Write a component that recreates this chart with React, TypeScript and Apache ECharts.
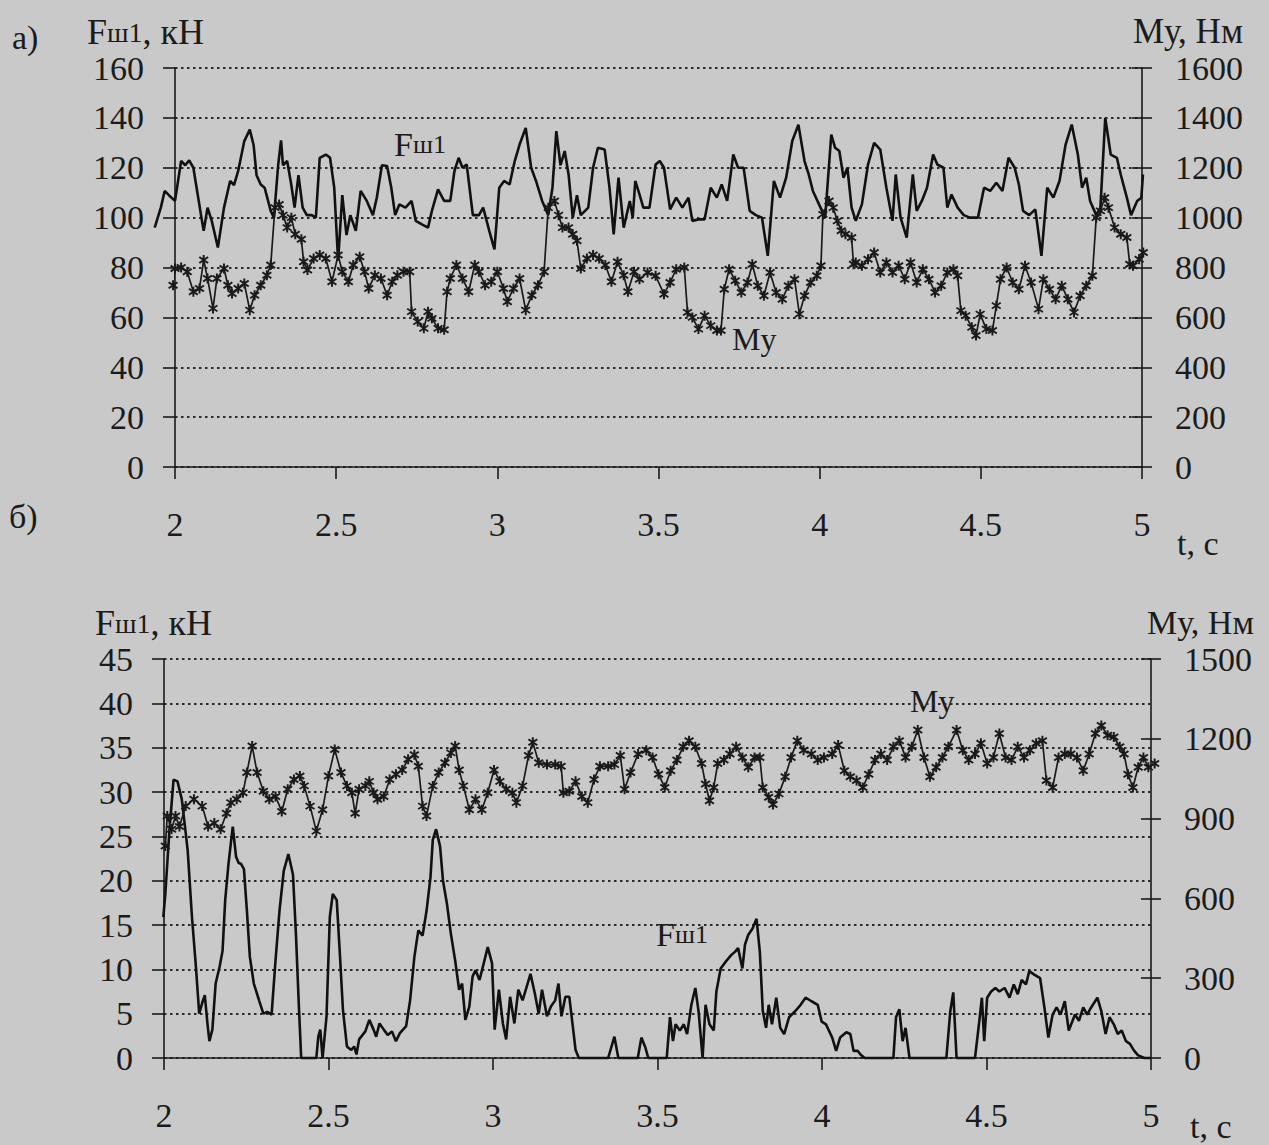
import React, { useEffect, useRef } from "react";
import * as echarts from "echarts";

// ---- Chart а): Fш1 (kN) vs t (s)
const topForce: [number, number][] = [
  [1.937, 96], [1.956, 104], [1.968, 110.7], [1.981, 109], [2.0, 106.7], [2.019, 122.7], [2.032, 121], [2.044, 123],
  [2.057, 120], [2.067, 112], [2.082, 100], [2.089, 94.7], [2.101, 104], [2.114, 98.7], [2.133, 88], [2.152, 104],
  [2.171, 114.7], [2.183, 113], [2.196, 118.7], [2.215, 130.7], [2.232, 135.3], [2.244, 129], [2.253, 117], [2.266, 113.3],
  [2.278, 112], [2.297, 102.7], [2.307, 100], [2.32, 121], [2.329, 131], [2.335, 121], [2.348, 122.7], [2.361, 113],
  [2.371, 104], [2.383, 117], [2.396, 104], [2.409, 101], [2.424, 101], [2.437, 100], [2.449, 124], [2.468, 125.3],
  [2.481, 124], [2.494, 112], [2.506, 82.7], [2.519, 109], [2.532, 93], [2.544, 101], [2.561, 94.7], [2.576, 110.7],
  [2.595, 106.7], [2.614, 101], [2.626, 108], [2.642, 121], [2.658, 120.7], [2.671, 112], [2.683, 101], [2.696, 105.3],
  [2.715, 104], [2.734, 106.7], [2.747, 98.7], [2.766, 97.3], [2.785, 96], [2.797, 102.7], [2.816, 111.3], [2.835, 106.7],
  [2.854, 106.7], [2.867, 118.7], [2.88, 124], [2.892, 120], [2.905, 121.3], [2.924, 101], [2.943, 101], [2.956, 104],
  [2.975, 94.7], [2.991, 87.3], [3.006, 112], [3.021, 114.7], [3.038, 113.3], [3.054, 122.7], [3.069, 129.3], [3.088, 136],
  [3.105, 120], [3.12, 114.7], [3.139, 106.7], [3.158, 101], [3.171, 112], [3.183, 134.7], [3.196, 121], [3.209, 126.7],
  [3.221, 117.3], [3.234, 100], [3.247, 109], [3.259, 101], [3.282, 104], [3.297, 120], [3.312, 128], [3.333, 127.3],
  [3.348, 112], [3.361, 93.3], [3.376, 116], [3.392, 96], [3.411, 106.7], [3.42, 100], [3.428, 114.7], [3.441, 109.3],
  [3.453, 104], [3.472, 104], [3.491, 121.3], [3.504, 122.7], [3.517, 120], [3.536, 103.3], [3.555, 108], [3.574, 104],
  [3.593, 108], [3.605, 98.7], [3.624, 99.3], [3.643, 99.3], [3.662, 112], [3.681, 108], [3.696, 113.3], [3.713, 106.7],
  [3.732, 125.3], [3.747, 120], [3.764, 120], [3.783, 102.7], [3.802, 101], [3.821, 100], [3.839, 84.7], [3.858, 114.7],
  [3.877, 108], [3.896, 116], [3.915, 130.7], [3.934, 137.3], [3.953, 122.7], [3.966, 117.3], [3.979, 110.7], [3.998, 105.3],
  [4.017, 100], [4.036, 133.3], [4.048, 128], [4.061, 126.7], [4.074, 116], [4.086, 120], [4.099, 104], [4.112, 98.7],
  [4.131, 105.3], [4.15, 121.3], [4.169, 130], [4.188, 127.3], [4.207, 112], [4.226, 98.7], [4.236, 117.3], [4.251, 100],
  [4.27, 92], [4.289, 117.3], [4.301, 102.7], [4.317, 106.7], [4.333, 112], [4.352, 125.3], [4.365, 121.3], [4.384, 120],
  [4.396, 104], [4.409, 109.3], [4.428, 104], [4.447, 101], [4.466, 100], [4.491, 100], [4.51, 112], [4.529, 110.7],
  [4.548, 114], [4.567, 110.7], [4.586, 124], [4.605, 120], [4.618, 113.3], [4.631, 102.7], [4.65, 101], [4.669, 103.3],
  [4.688, 84.7], [4.706, 112], [4.725, 108], [4.744, 114.7], [4.763, 129.3], [4.782, 137.3], [4.801, 125.3], [4.814, 112],
  [4.827, 116], [4.839, 106.7], [4.858, 101], [4.871, 104], [4.886, 140], [4.903, 125.3], [4.922, 124], [4.934, 117.3],
  [4.953, 108], [4.966, 101], [4.985, 106.7], [4.998, 108], [5.003, 117.3],
];

// ---- Chart а): Mу (N·m) vs t (s)
const topMoment: [number, number][] = [
  [1.994, 729], [2.0, 796], [2.019, 800], [2.038, 783], [2.057, 703], [2.076, 716], [2.089, 830], [2.101, 756],
  [2.118, 636], [2.13, 756], [2.152, 796], [2.164, 729], [2.177, 696], [2.196, 716], [2.215, 736], [2.232, 629],
  [2.247, 689], [2.266, 729], [2.285, 769], [2.297, 810], [2.31, 1040], [2.323, 1053], [2.335, 1010], [2.348, 960],
  [2.361, 1000], [2.373, 933], [2.392, 913], [2.399, 823], [2.411, 790], [2.43, 836], [2.449, 850], [2.468, 836],
  [2.487, 743], [2.506, 850], [2.519, 783], [2.538, 743], [2.553, 810], [2.573, 843], [2.588, 783], [2.601, 716],
  [2.62, 769], [2.639, 756], [2.658, 689], [2.674, 743], [2.69, 769], [2.709, 783], [2.728, 783], [2.734, 623],
  [2.753, 583], [2.772, 556], [2.785, 623], [2.797, 596], [2.816, 556], [2.835, 550], [2.844, 703], [2.854, 756],
  [2.873, 810], [2.892, 756], [2.911, 703], [2.93, 810], [2.943, 783], [2.962, 729], [2.981, 743], [3.0, 783],
  [3.019, 716], [3.031, 663], [3.05, 716], [3.069, 756], [3.088, 629], [3.107, 689], [3.126, 729], [3.145, 783],
  [3.158, 1040], [3.177, 1067], [3.19, 1010], [3.202, 960], [3.221, 960], [3.234, 933], [3.247, 907], [3.259, 796],
  [3.278, 836], [3.297, 850], [3.316, 836], [3.335, 810], [3.354, 743], [3.373, 823], [3.392, 769], [3.405, 703],
  [3.424, 783], [3.441, 753], [3.466, 780], [3.491, 767], [3.517, 693], [3.536, 740], [3.555, 793], [3.58, 800],
  [3.59, 620], [3.605, 600], [3.624, 553], [3.643, 607], [3.662, 567], [3.681, 547], [3.694, 547], [3.704, 713],
  [3.719, 793], [3.738, 747], [3.757, 700], [3.776, 740], [3.791, 813], [3.808, 727], [3.827, 687], [3.846, 780],
  [3.865, 700], [3.884, 673], [3.903, 727], [3.922, 753], [3.937, 613], [3.953, 687], [3.972, 740], [3.991, 767],
  [4.004, 807], [4.01, 1013], [4.029, 1067], [4.042, 1040], [4.055, 987], [4.067, 947], [4.08, 933], [4.099, 920],
  [4.105, 813], [4.112, 820], [4.131, 807], [4.15, 833], [4.169, 860], [4.188, 780], [4.207, 820], [4.226, 780],
  [4.245, 807], [4.264, 753], [4.282, 820], [4.301, 740], [4.32, 793], [4.339, 753], [4.358, 700], [4.377, 727],
  [4.396, 780], [4.415, 793], [4.428, 767], [4.438, 627], [4.453, 607], [4.472, 560], [4.485, 527], [4.498, 613],
  [4.517, 553], [4.536, 547], [4.548, 647], [4.561, 753], [4.58, 800], [4.599, 740], [4.618, 713], [4.637, 807],
  [4.656, 740], [4.679, 633], [4.694, 753], [4.713, 713], [4.732, 673], [4.751, 727], [4.77, 673], [4.789, 620],
  [4.808, 687], [4.827, 727], [4.846, 767], [4.858, 1000], [4.871, 1027], [4.884, 1080], [4.896, 1040], [4.915, 960],
  [4.934, 933], [4.953, 920], [4.962, 813], [4.972, 807], [4.991, 833], [5.004, 860],
];

// ---- Chart б): Fш1 (kN) vs t (s)
const bottomForce: [number, number][] = [
  [1.998, 15.9], [2.004, 18.5], [2.016, 25.4], [2.029, 31.4], [2.041, 31.2], [2.054, 29.2], [2.066, 25.4], [2.072, 23.4],
  [2.085, 15.9], [2.097, 10.3], [2.107, 5], [2.116, 6.2], [2.124, 7.1], [2.132, 3.9], [2.138, 1.9], [2.147, 3.2],
  [2.157, 8.4], [2.169, 10.3], [2.178, 12.1], [2.186, 17.8], [2.196, 21.9], [2.209, 26.1], [2.219, 22.7], [2.227, 22],
  [2.234, 21.9], [2.243, 21.3], [2.252, 16.6], [2.261, 11.4], [2.273, 8.4], [2.289, 6.5], [2.302, 5], [2.314, 5.2],
  [2.327, 4.9], [2.339, 11], [2.351, 16.6], [2.364, 21.1], [2.378, 23], [2.392, 20.7], [2.401, 14], [2.41, 5.8],
  [2.417, 0], [2.463, 0], [2.469, 2.4], [2.475, 3.2], [2.482, 0], [2.494, 4.7], [2.504, 15.9], [2.513, 18.5],
  [2.525, 17.8], [2.534, 12.1], [2.544, 5.4], [2.556, 1.3], [2.569, 0.9], [2.578, 1.3], [2.585, 0.4], [2.593, 2.1],
  [2.612, 3], [2.624, 4.3], [2.637, 3.2], [2.645, 2.4], [2.655, 3.9], [2.668, 3.2], [2.68, 2.6], [2.693, 3],
  [2.705, 1.9], [2.717, 2.8], [2.736, 3.6], [2.748, 6.5], [2.761, 11.4], [2.773, 14.4], [2.786, 13.8], [2.798, 16.6],
  [2.81, 20.4], [2.817, 24.6], [2.827, 25.8], [2.839, 23.9], [2.848, 20], [2.86, 17.4], [2.872, 14], [2.885, 11],
  [2.897, 7.7], [2.906, 8.4], [2.916, 4.3], [2.928, 5.8], [2.938, 9.2], [2.947, 9.9], [2.959, 8.8], [2.972, 10.7],
  [2.984, 12.5], [2.997, 10.7], [3.005, 3.2], [3.018, 7.7], [3.03, 3.9], [3.04, 2.1], [3.052, 6.9], [3.065, 3.9],
  [3.077, 7.7], [3.09, 6.5], [3.102, 8], [3.114, 9.5], [3.127, 7.3], [3.139, 5], [3.149, 7.7], [3.164, 4.7],
  [3.176, 5.8], [3.189, 6.5], [3.199, 8.4], [3.208, 4.7], [3.22, 6.9], [3.232, 6.9], [3.251, 0.9], [3.261, 0],
  [3.35, 0], [3.369, 2.4], [3.381, 0], [3.44, 0], [3.451, 2.3], [3.463, 1.2], [3.472, 0], [3.528, 0],
  [3.538, 4.6], [3.547, 1.9], [3.555, 3.8], [3.568, 3.1], [3.58, 3.8], [3.59, 2.7], [3.603, 6], [3.615, 7.9],
  [3.625, 5.2], [3.637, 0], [3.646, 6], [3.658, 3.8], [3.671, 3.1], [3.679, 7.5], [3.692, 10.1], [3.708, 10.9],
  [3.724, 11.6], [3.736, 12], [3.745, 12.4], [3.758, 10.1], [3.766, 12.8], [3.776, 13.9], [3.789, 14.6], [3.801, 15.7],
  [3.811, 12], [3.82, 5.3], [3.83, 3.4], [3.838, 6], [3.848, 3.8], [3.861, 6.8], [3.873, 3.4], [3.885, 2.7],
  [3.9, 4.6], [3.919, 5.3], [3.935, 6], [3.95, 6.8], [3.968, 6.4], [3.987, 6], [3.999, 4.1], [4.012, 3.8],
  [4.031, 2.3], [4.043, 0.8], [4.055, 2.3], [4.074, 2.9], [4.086, 2.7], [4.096, 0.8], [4.109, 0.8], [4.117, 0.4],
  [4.13, 0], [4.217, 0], [4.225, 4.6], [4.235, 5.5], [4.245, 1.9], [4.254, 3.4], [4.266, 0], [4.378, 0],
  [4.39, 5.3], [4.399, 7.4], [4.409, 0], [4.465, 0], [4.477, 3.8], [4.486, 6.8], [4.493, 1.9], [4.502, 6.8],
  [4.514, 7.5], [4.527, 7.9], [4.539, 7.5], [4.555, 7.9], [4.57, 6.8], [4.583, 8.3], [4.595, 7.2], [4.607, 8.8],
  [4.62, 8.3], [4.63, 9.8], [4.645, 9.4], [4.663, 9], [4.676, 5.7], [4.688, 2.3], [4.701, 4.9], [4.713, 5.7],
  [4.725, 4.9], [4.738, 6.4], [4.75, 3.1], [4.769, 4.9], [4.781, 4.2], [4.794, 5.7], [4.806, 4.9], [4.818, 5.7],
  [4.837, 6.8], [4.849, 5.3], [4.862, 2.7], [4.874, 4.6], [4.887, 3.8], [4.899, 2.7], [4.911, 3.1], [4.924, 1.9],
  [4.936, 1.6], [4.949, 0.8], [4.961, 0.3], [4.98, 0], [4.998, 0],
];

// ---- Chart б): Mу (N·m) vs t (s)
const bottomMoment: [number, number][] = [
  [2.004, 797], [2.01, 910], [2.023, 860], [2.035, 910], [2.047, 870], [2.066, 947], [2.091, 973], [2.116, 947],
  [2.134, 870], [2.153, 883], [2.172, 860], [2.19, 920], [2.203, 960], [2.221, 973], [2.24, 997], [2.252, 1073],
  [2.268, 1173], [2.283, 1073], [2.302, 1003], [2.32, 973], [2.339, 983], [2.358, 927], [2.376, 1010], [2.395, 1047],
  [2.413, 1060], [2.426, 1023], [2.444, 947], [2.463, 853], [2.482, 933], [2.5, 1060], [2.519, 1160], [2.538, 1073],
  [2.556, 1023], [2.571, 997], [2.581, 920], [2.593, 1010], [2.612, 1023], [2.624, 1040], [2.637, 997], [2.649, 973],
  [2.668, 983], [2.686, 1047], [2.705, 1067], [2.724, 1083], [2.742, 1123], [2.761, 1140], [2.773, 1097], [2.786, 947],
  [2.798, 910], [2.817, 1023], [2.835, 1073], [2.854, 1110], [2.872, 1147], [2.885, 1173], [2.897, 1083], [2.91, 1023],
  [2.928, 933], [2.947, 973], [2.966, 933], [2.984, 997], [3.003, 1083], [3.021, 1040], [3.04, 1010], [3.059, 997],
  [3.071, 960], [3.09, 1023], [3.108, 1137], [3.121, 1187], [3.139, 1110], [3.164, 1103], [3.189, 1103], [3.207, 1097],
  [3.214, 997], [3.232, 1003], [3.251, 1040], [3.27, 983], [3.288, 960], [3.307, 1047], [3.325, 1097], [3.35, 1097],
  [3.369, 1103], [3.387, 1137], [3.4, 1010], [3.418, 1073], [3.441, 1143], [3.466, 1157], [3.485, 1130], [3.503, 1067],
  [3.522, 1017], [3.54, 1080], [3.559, 1120], [3.578, 1170], [3.596, 1193], [3.615, 1170], [3.634, 1107], [3.646, 1030],
  [3.658, 967], [3.671, 1017], [3.683, 1107], [3.702, 1120], [3.72, 1143], [3.739, 1170], [3.758, 1130], [3.776, 1093],
  [3.795, 1130], [3.811, 1130], [3.82, 1017], [3.838, 980], [3.851, 953], [3.869, 993], [3.888, 1057], [3.906, 1130],
  [3.925, 1193], [3.944, 1157], [3.968, 1143], [3.987, 1120], [4.006, 1130], [4.031, 1143], [4.049, 1177], [4.068, 1080],
  [4.086, 1057], [4.105, 1043], [4.124, 1017], [4.142, 1067], [4.161, 1120], [4.179, 1143], [4.198, 1120], [4.217, 1170],
  [4.235, 1193], [4.254, 1130], [4.273, 1170], [4.291, 1233], [4.31, 1130], [4.328, 1057], [4.347, 1093], [4.366, 1130],
  [4.384, 1170], [4.409, 1233], [4.428, 1157], [4.446, 1120], [4.465, 1143], [4.483, 1183], [4.502, 1107], [4.521, 1130],
  [4.539, 1220], [4.558, 1130], [4.576, 1120], [4.595, 1170], [4.614, 1130], [4.632, 1157], [4.651, 1183], [4.67, 1193],
  [4.682, 1043], [4.701, 1017], [4.719, 1130], [4.738, 1143], [4.756, 1143], [4.775, 1130], [4.794, 1080], [4.812, 1143],
  [4.831, 1220], [4.849, 1250], [4.868, 1213], [4.887, 1207], [4.905, 1170], [4.918, 1143], [4.93, 1067], [4.945, 1017],
  [4.961, 1093], [4.977, 1130], [4.992, 1093], [5.011, 1107],
];

// axis scales
const T_MIN = 2, T_MAX = 5, T_STEP = 0.5;
const T_PAD = 0.1; // the traces run slightly past both ends of the time axis
const TOP_F = { min: 0, max: 160, step: 20 };
const TOP_M = { min: 0, max: 1600, step: 200 };
const BOT_F = { min: 0, max: 45, step: 5 };
const BOT_M = { min: 0, max: 1500, step: 300 };

const FONT = "Liberation Serif";
const INK = "#1b1b1b";
const STAR =
  "path://M4.1,0 L5.9,0 L5.9,10 L4.1,10 Z M0.46,2.72 L1.54,1.28 L9.54,7.28 L8.46,8.72 Z M8.46,1.28 L9.54,2.72 L1.54,8.72 L0.46,7.28 Z";

// plot boxes of the two panels
const BOX_A = { left: 175, top: 68, width: 967, height: 399 };
const BOX_B = { left: 164, top: 659, width: 987, height: 399 };

// a wider invisible box sharing the same time scale (lets a trace start before t = 2)
const widen = (b: typeof BOX_A) => {
  const pxPerT = b.width / (T_MAX - T_MIN);
  return { left: b.left - T_PAD * pxPerT, top: b.top, width: b.width + 2 * T_PAD * pxPerT, height: b.height };
};

export default function App() {
  const ref = useRef<HTMLDivElement>(null);

  useEffect(() => {
    if (!ref.current) return;
    const chart = echarts.init(ref.current, undefined, { renderer: "svg" });

    const axisLine = { show: true, onZero: false, lineStyle: { color: INK, width: 1.6 } };
    const tickStyle = { color: INK, width: 1.6 };
    const label = (margin: number) => ({
      fontSize: 34,
      fontFamily: FONT,
      color: INK,
      margin,
      formatter: (v: number) => String(v),
    });
    const dotted = { show: true, lineStyle: { color: "#2b2b2b", width: 2, type: [2.5, 3.5] as any } };

    const xAxis = (gi: number) => ({
      gridIndex: gi,
      type: "value",
      min: T_MIN,
      max: T_MAX,
      interval: T_STEP,
      axisLine,
      axisTick: { show: true, length: 12, lineStyle: tickStyle },
      axisLabel: label(40),
      splitLine: { show: false },
    });

    const leftAxis = (gi: number, s: any) => ({
      gridIndex: gi,
      type: "value",
      position: "left",
      min: s.min,
      max: s.max,
      interval: s.step,
      axisLine,
      axisTick: { show: true, length: 12, lineStyle: tickStyle },
      axisLabel: label(31),
      splitLine: dotted,
    });
    const rightAxis = (gi: number, s: any) => ({
      gridIndex: gi,
      type: "value",
      position: "right",
      min: s.min,
      max: s.max,
      interval: s.step,
      axisLine,
      axisTick: { show: true, length: 10, lineStyle: tickStyle },
      axisLabel: label(33),
      splitLine: { show: false },
    });
    const rightInner = (gi: number, s: any) => ({
      gridIndex: gi,
      type: "value",
      position: "right",
      min: s.min,
      max: s.max,
      interval: s.step,
      axisLine: { show: false },
      axisTick: { show: true, inside: true, length: 10, lineStyle: tickStyle },
      axisLabel: { show: false },
      splitLine: { show: false },
    });
    const hiddenX = (gi: number) => ({
      gridIndex: gi,
      type: "value",
      min: T_MIN - T_PAD,
      max: T_MAX + T_PAD,
      show: false,
    });
    const hiddenY = (gi: number, s: any) => ({
      gridIndex: gi,
      type: "value",
      min: s.min,
      max: s.max,
      show: false,
    });

    const plain = (data: [number, number][], xi: number, yi: number) => ({
      type: "line",
      xAxisIndex: xi,
      yAxisIndex: yi,
      data,
      showSymbol: false,
      clip: false,
      silent: true,
      lineStyle: { color: "#111", width: 2.6 },
      z: 3,
    });
    const starred = (data: [number, number][], xi: number, yi: number) => ({
      type: "line",
      xAxisIndex: xi,
      yAxisIndex: yi,
      data,
      showSymbol: true,
      symbol: STAR,
      symbolSize: 10,
      clip: false,
      silent: true,
      itemStyle: { color: "#1a1a1a", borderWidth: 0 },
      lineStyle: { color: "#1a1a1a", width: 1.7 },
      z: 4,
    });

    const txt = (x: number, y: number, text: string, fontSize = 34, rich?: any) => ({
      type: "text",
      x,
      y,
      silent: true,
      style: {
        text,
        fontSize,
        fontFamily: FONT,
        fill: INK,
        textAlign: "left",
        textVerticalAlign: "middle",
        rich,
      },
    });
    const forceRich = (big: number, small: number) => ({
      a: { fontSize: big, fontFamily: FONT, fill: INK },
      b: { fontSize: small, fontFamily: FONT, fill: INK },
    });

    chart.setOption({
      animation: false,
      backgroundColor: "#c9c9c9",
      textStyle: { fontFamily: FONT },
      grid: [BOX_A, BOX_B, widen(BOX_A), widen(BOX_B)],
      xAxis: [xAxis(0), xAxis(1), hiddenX(2), hiddenX(3)],
      yAxis: [
        leftAxis(0, TOP_F),
        rightAxis(0, TOP_M),
        rightInner(0, TOP_M),
        leftAxis(1, BOT_F),
        rightAxis(1, BOT_M),
        rightInner(1, BOT_M),
        hiddenY(2, TOP_F),
        hiddenY(3, BOT_F),
      ],
      series: [
        plain(topForce, 2, 6),
        starred(topMoment, 0, 1),
        plain(bottomForce, 3, 7),
        starred(bottomMoment, 1, 4),
      ],
      graphic: [
        txt(12, 37, "а)"),
        txt(87, 32, "{a|F}{b|ш1}{a|, кН}", 34, forceRich(36, 28)),
        txt(1133, 31, "Mу, Нм", 35),
        txt(394, 144, "{a|F}{b|ш1}", 32, forceRich(34, 26)),
        txt(732, 339, "Mу", 32),
        txt(1177, 543, "t, c", 34),
        txt(9, 516, "б)"),
        txt(95, 623, "{a|F}{b|ш1}{a|, кН}", 34, forceRich(36, 28)),
        txt(1147, 622, "Mу, Нм", 34),
        txt(910, 701, "Mу", 32),
        txt(656, 934, "{a|F}{b|ш1}", 32, forceRich(34, 26)),
        txt(1190, 1126, "t, c", 34),
      ],
    });

    return () => chart.dispose();
  }, []);

  return (
    <div
      ref={ref}
      style={{ position: "absolute", left: 0, top: 0, width: 1269, height: 1145 }}
    />
  );
}
